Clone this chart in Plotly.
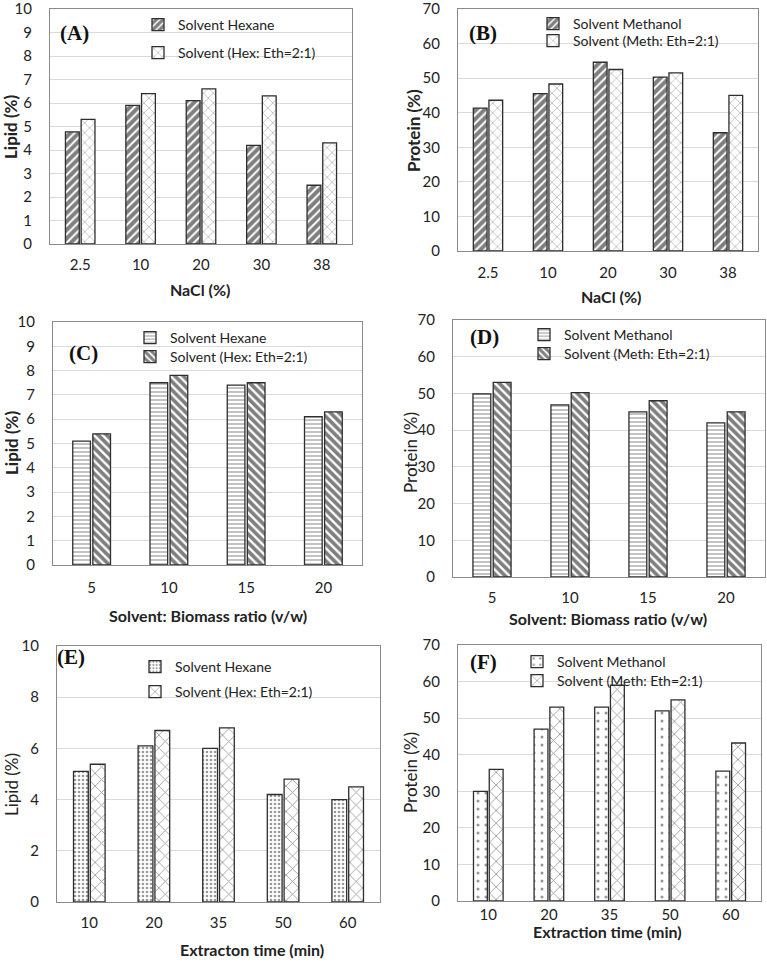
import plotly.graph_objects as go

W, H = 767, 963

# ---------------- data ----------------
nacl = ["2.5", "10", "20", "30", "38"]
lipid_A_hexane = [4.77, 5.9, 6.1, 4.2, 2.5]
lipid_A_hexeth = [5.3, 6.4, 6.6, 6.3, 4.3]
protein_B_meth = [41.3, 45.5, 54.6, 50.3, 34.2]
protein_B_metheth = [43.6, 48.3, 52.5, 51.5, 45.0]

ratio = ["5", "10", "15", "20"]
lipid_C_hexane = [5.1, 7.5, 7.4, 6.1]
lipid_C_hexeth = [5.4, 7.8, 7.5, 6.3]
protein_D_meth = [49.9, 46.9, 45.0, 42.0]
protein_D_metheth = [53.0, 50.2, 48.0, 45.0]

time_min = ["10", "20", "35", "50", "60"]
lipid_E_hexane = [5.1, 6.1, 6.0, 4.2, 4.0]
lipid_E_hexeth = [5.38, 6.7, 6.8, 4.8, 4.5]
protein_F_meth = [30.0, 47.0, 53.0, 52.0, 35.5]
protein_F_metheth = [36.0, 53.0, 59.0, 55.0, 43.2]

# ---------------- layout geometry (pixels) ----------------
FONT = "Lato"
panels = [
    # key, x0, x1, y0(top), y1(bottom), ymax, dtick
    ("A", 50, 352, 9, 244, 10, 1),
    ("B", 458, 758, 9, 251, 70, 10),
    ("C", 53, 362, 322, 565, 10, 1),
    ("D", 453, 765, 320, 577, 70, 10),
    ("E", 57, 380, 646, 902, 10, 2),
    ("F", 458, 761, 645, 901, 70, 10),
]

def px(x):
    return x / W

def py(y):
    return 1 - y / H

fig = go.Figure()
legend_count = [0]

def bar(name, cats, vals, idx, shape, size, sol, fg="#111111"):
    legend_count[0] += 1
    n = legend_count[0]
    fig.add_trace(go.Bar(
        name=name, x=cats, y=vals,
        xaxis="x" if idx == 1 else f"x{idx}",
        yaxis="y" if idx == 1 else f"y{idx}",
        legend="legend" if n == 1 else f"legend{n}",
        marker=dict(color="white",
                    line=dict(color="#2e2e2e", width=1.3),
                    pattern=dict(shape=shape, size=size, solidity=sol,
                                 fgcolor=fg, bgcolor="white")),
    ))

bar("Solvent Hexane", nacl, lipid_A_hexane, 1, "/", 6, 0.68, "#000000")
bar("Solvent (Hex: Eth=2:1)", nacl, lipid_A_hexeth, 1, "x", 7, 0.15, "#333333")
bar("Solvent Methanol", nacl, protein_B_meth, 2, "/", 6, 0.68, "#000000")
bar("Solvent (Meth: Eth=2:1)", nacl, protein_B_metheth, 2, "x", 7, 0.15, "#333333")
bar("Solvent Hexane", ratio, lipid_C_hexane, 3, "-", 4, 0.3, "#333333")
bar("Solvent (Hex: Eth=2:1)", ratio, lipid_C_hexeth, 3, "\\", 6, 0.62, "#000000")
bar("Solvent Methanol", ratio, protein_D_meth, 4, "-", 4, 0.3, "#333333")
bar("Solvent (Meth: Eth=2:1)", ratio, protein_D_metheth, 4, "\\", 6, 0.62, "#000000")
bar("Solvent Hexane", time_min, lipid_E_hexane, 5, ".", 4, 0.35, "#333333")
bar("Solvent (Hex: Eth=2:1)", time_min, lipid_E_hexeth, 5, "x", 9, 0.18, "#333333")
bar("Solvent Methanol", time_min, protein_F_meth, 6, ".", 8, 0.12, "#333333")
bar("Solvent (Meth: Eth=2:1)", time_min, protein_F_metheth, 6, "x", 9, 0.18, "#333333")

layout = dict(
    width=W, height=H,
    margin=dict(l=0, r=0, t=0, b=0, autoexpand=False),
    paper_bgcolor="white", plot_bgcolor="white",
    barmode="group", bargap=0.48, bargroupgap=0.12,
    font=dict(family=FONT, size=15, color="#222222"),
    showlegend=True,
)

xlabel_pad = {"A": 7, "B": 8, "C": 9, "D": 7, "E": 7, "F": 0}

for i, (key, x0, x1, y0, y1, ymax, dt) in enumerate(panels, start=1):
    xa = "xaxis" if i == 1 else f"xaxis{i}"
    ya = "yaxis" if i == 1 else f"yaxis{i}"
    yid = "y" if i == 1 else f"y{i}"
    xid = "x" if i == 1 else f"x{i}"
    layout[xa] = dict(domain=[px(x0), px(x1)], anchor=yid,
                      showline=True, mirror=True, linecolor="#8a8a8a", linewidth=1,
                      ticks="outside", ticklen=xlabel_pad[key], tickcolor="rgba(0,0,0,0)",
                      tickfont=dict(size=15, color="#222222"), showgrid=False,
                      ticklabeloverflow="allow")
    layout[ya] = dict(domain=[py(y1), py(y0)], anchor=xid,
                      range=[0, ymax], dtick=dt, tick0=0,
                      showline=True, mirror=True, linecolor="#8a8a8a", linewidth=1,
                      ticks="outside", ticklen=14, tickcolor="rgba(0,0,0,0)",
                      tickfont=dict(size=15, color="#222222"),
                      showgrid=True, gridcolor="#d9d9d9", gridwidth=1, zeroline=False,
                      ticklabeloverflow="allow")

# one legend per legend row: (text start x, row centre y)
legend_rows = [
    (178, 25), (178, 53),
    (573, 24), (573, 41),
    (170, 338), (170, 357),
    (564, 335), (564, 354),
    (175, 667), (175, 692),
    (557, 662), (557, 681),
]
for n, (lx, ly) in enumerate(legend_rows, start=1):
    lg = "legend" if n == 1 else f"legend{n}"
    layout[lg] = dict(x=px(lx - 40), y=py(ly), xanchor="left", yanchor="middle",
                      bgcolor="rgba(0,0,0,0)", borderwidth=0,
                      font=dict(family=FONT, size=14, color="#222222"),
                      itemwidth=30)

fig.update_layout(**layout)

annotations = []
# panel letters
letters = [("(A)", 74, 33), ("(B)", 483, 33), ("(C)", 83, 353),
           ("(D)", 484, 337), ("(E)", 71, 657), ("(F)", 483, 662)]
for t, x, y in letters:
    annotations.append(dict(text=f"<b>{t}</b>", x=px(x), y=py(y), xref="paper", yref="paper",
                            showarrow=False, xanchor="center", yanchor="middle",
                            font=dict(family="Liberation Serif", size=21, color="#111111")))

# x-axis titles
xtitles = [("<b>NaCl (%)</b>", 200, 290), ("<b>NaCl (%)</b>", 611, 297),
           ("<b>Solvent: Biomass ratio (v/w)</b>", 208, 615),
           ("<b>Solvent: Biomass ratio (v/w)</b>", 608, 618),
           ("<b>Extracton time (min)</b>", 252, 949),
           ("<b>Extraction time (min)</b>", 607, 931)]
for t, x, y in xtitles:
    annotations.append(dict(text=t, x=px(x), y=py(y), xref="paper", yref="paper",
                            showarrow=False, xanchor="center", yanchor="middle",
                            font=dict(family=FONT, size=16, color="#222222")))

# y-axis titles
ytitles = [("<b>Lipid (%)</b>", 11, 127), ("<b>Protein (%)</b>", 414, 130),
           ("<b>Lipid (%)</b>", 11, 443), ("Protein (%)", 410, 452),
           ("Lipid (%)", 11, 785), ("Protein (%)", 410, 772)]
for t, x, y in ytitles:
    annotations.append(dict(text=t, x=px(x), y=py(y), xref="paper", yref="paper",
                            showarrow=False, xanchor="center", yanchor="middle", textangle=-90,
                            font=dict(family=FONT, size=17, color="#222222")))

fig.update_layout(annotations=annotations)
fig.write_html("out.html",
               config={"displayModeBar": False},
               post_script="document.body.style.margin='0';document.body.style.overflow='hidden';")
